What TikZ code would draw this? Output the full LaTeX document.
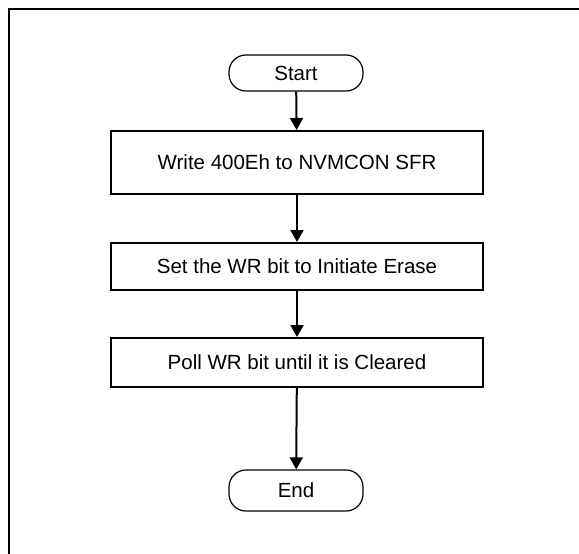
\documentclass[tikz,border=0pt]{standalone}
\usepackage{fontspec}
\setmainfont{Liberation Sans}
\usetikzlibrary{arrows.meta}
\begin{document}
\begin{tikzpicture}[x=1pt,y=-1pt,
  every node/.style={font=\fontsize{20.5}{24}\selectfont},
  term/.style={draw,line width=1.2pt,rounded corners=17pt,minimum width=134pt,inner sep=0pt},
  proc/.style={draw,line width=2pt,minimum width=372pt,inner sep=0pt},
  flow/.style={line width=2pt,-{Triangle[width=13pt,length=12pt]}}]
\useasboundingbox[fill=white] (0,0) rectangle (579,554);
\draw[line width=2pt] (9,554) -- (9,9) -- (579,9);
\node[term,minimum height=36pt] (start) at (296,73) {Start};
\node[proc,minimum height=63pt] (b1) at (297,162.5) {Write 400Eh to NVMCON SFR};
\node[proc,minimum height=47pt] (b2) at (297,266.5) {Set the WR bit to Initiate Erase};
\node[proc,minimum height=49pt] (b3) at (297,362.5) {Poll WR bit until it is Cleared};
\node[term,minimum height=41pt] (end) at (296,490.5) {End};
\draw[flow] (start) -- (b1);
\draw[flow] (b1) -- (b2);
\draw[flow] (b2) -- (b3);
\draw[flow] (b3) -- (end);
\end{tikzpicture}
\end{document}
